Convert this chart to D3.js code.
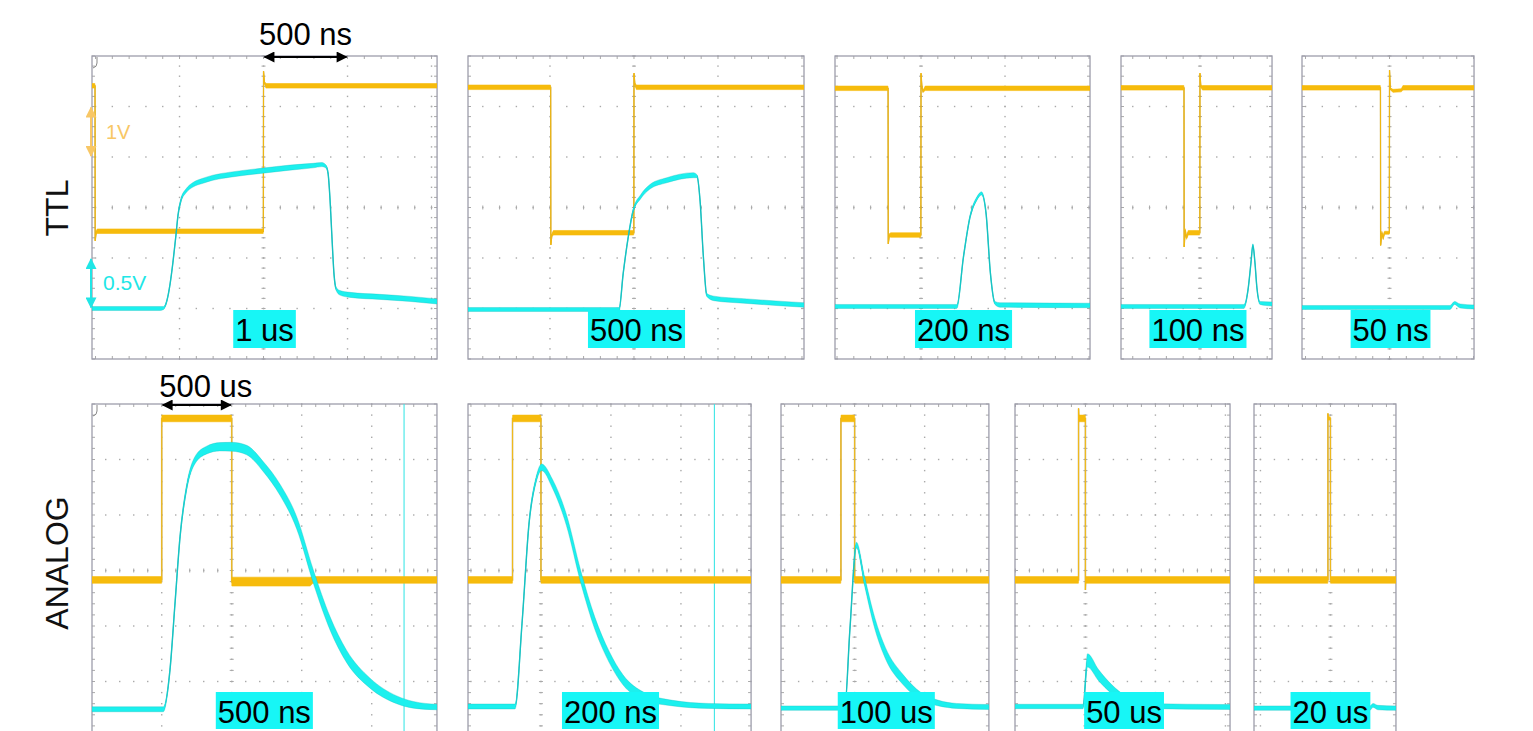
<!DOCTYPE html>
<html><head><meta charset="utf-8">
<script src="https://cdn.jsdelivr.net/npm/d3@7"></script>
<style>
body{margin:0;background:#fff;overflow:hidden}
svg{display:block}
text{font-family:"Liberation Sans",Arial,Helvetica,sans-serif}
</style>
</head><body>
<svg id="chart" width="1533" height="731"></svg>
<script>
// ---------------- DATA ----------------
// Row titles
const rowTitles = ["TTL", "ANALOG"];
// Pulse-width labels per panel
const ttlLabels = ["1 us", "500 ns", "200 ns", "100 ns", "50 ns"];
const analogLabels = ["500 ns", "200 ns", "100 us", "50 us", "20 us"];
// Time window shown in each panel (t = 0 at end of pulse); TTL in ns, ANALOG in us
const ttlWindows = [[-1021, 1033], [-988, 1012], [-512, 1006], [-470, 429], [-521, 503]];
const analogWindows = [[-998, 1466], [-521, 1501], [-526, 959], [-503, 1033], [-546, 468]];
// Label box centre (time units)
const ttlLabelAt = [6, 15, 253, -12, 6];
const analogLabelAt = [233, 497, 226, 276, 0];

// Traces: [time, value in divisions (0 = screen centre), noise half-width in divisions]
const ttlYellow = [
  [[-1021,2.41,.045],[-1004,2.41,.045],[-1003,2.41,0],[-1002,-0.66,0],[-997,-0.5,.03],[-990,-0.47,.045],[-2,-0.47,.045],[-1,-0.47,0],[0,2.70,0],[5,2.48,.02],[14,2.41,.045],[1033,2.41,.045]],
  [[-988,2.38,.045],[-497,2.38,.045],[-496,2.38,0],[-495,-0.74,0],[-489,-0.55,.03],[-480,-0.5,.045],[-2,-0.5,.045],[-1,-0.5,0],[0,2.66,0],[5,2.45,.02],[14,2.38,.045],[1012,2.38,.045]],
  [[-512,2.36,.045],[-197,2.36,.045],[-196,2.36,0],[-195,-0.72,0],[-189,-0.55,.03],[-180,-0.545,.045],[-2,-0.545,.045],[-1,-0.545,0],[0,2.66,0],[5,2.40,.02],[12,2.30,.02],[25,2.36,.045],[1006,2.36,.045]],
  [[-470,2.37,.045],[-96,2.37,.045],[-95,2.37,0],[-94,-0.78,0],[-88,-0.45,.03],[-80,-0.6,.03],[-70,-0.5,.045],[-2,-0.5,.045],[-1,-0.5,0],[0,2.66,0],[5,2.40,.02],[15,2.37,.045],[429,2.37,.045]],
  [[-521,2.37,.045],[-55,2.37,.045],[-54,2.37,0],[-53,-0.75,0],[-46,-0.5,.03],[-38,-0.6,.03],[-30,-0.5,.03],[-2,-0.5,.03],[-1,-0.5,0],[0,2.72,0],[5,2.35,.02],[20,2.31,.03],[70,2.32,.03],[80,2.37,.045],[503,2.37,.045]]
];
const ttlCyan = [
  [[-1021,-2.0,.04],[-616,-2.0,.04],[-595,-1.99,.03],[-574,-1.83,.02],[-557,-1.53,.02],[-539,-1.08,.02],[-521,-0.54,.02],[-509,-0.15,.025],[-491,0.15,.035],[-461,0.33,.04],[-420,0.45,.045],[-360,0.53,.05],[-301,0.59,.05],[-199,0.65,.05],[-3,0.73,.05],[158,0.79,.05],[295,0.83,.045],[348,0.85,.04],[372,0.81,.03],[384,0.68,.02],[396,0.15,.02],[408,-0.64,.02],[420,-1.34,.02],[432,-1.61,.03],[455,-1.69,.045],[515,-1.73,.05],[693,-1.77,.05],[872,-1.81,.05],[1033,-1.86,.05]],
  [[-988,-2.02,.04],[-89,-2.02,.04],[-64,-1.30,.02],[-34,-0.58,.02],[-4,-0.05,.03],[39,0.21,.04],[95,0.41,.045],[195,0.54,.05],[353,0.64,.05],[375,0.62,.03],[393,0.15,.02],[413,-0.97,.02],[433,-1.73,.03],[475,-1.80,.045],[652,-1.85,.045],[1012,-1.93,.045]],
  [[-512,-1.96,.04],[213,-1.96,.04],[253,-0.97,.025],[292,-0.18,.03],[333,0.18,.035],[360,0.28,.03],[387,-0.11,.025],[413,-1.30,.025],[440,-1.89,.03],[470,-1.93,.045],[1006,-1.94,.045]],
  [[-470,-1.96,.04],[262,-1.96,.04],[286,-1.63,.02],[304,-1.08,.02],[315,-0.74,.02],[327,-1.08,.02],[339,-1.59,.02],[357,-1.89,.03],[429,-1.91,.04]],
  [[-521,-1.98,.04],[360,-1.98,.04],[387,-1.89,.03],[420,-1.95,.04],[503,-1.97,.04]]
];
const analogYellow = [
  [[-998,-0.17,.06],[-501,-0.17,.06],[-500,-0.17,0],[-500,2.74,0],[-499,2.74,.06],[-1,2.74,.06],[0,2.74,0],[0,-0.2,0],[1,-0.2,.08],[560,-0.2,.08],[580,-0.17,.06],[1466,-0.17,.06]],
  [[-521,-0.17,.06],[-204,-0.17,.06],[-203,-0.17,0],[-203,2.74,0],[-202,2.74,.06],[-1,2.74,.06],[0,2.74,0],[0,-0.17,0],[1,-0.17,.06],[1501,-0.17,.06]],
  [[-526,-0.17,.06],[-99,-0.17,.06],[-98,-0.17,0],[-98,2.74,0],[-97,2.74,.06],[-1,2.74,.06],[0,2.74,0],[0,-0.17,0],[1,-0.17,.06],[959,-0.17,.06]],
  [[-503,-0.17,.06],[-50,-0.17,.06],[-49,-0.17,0],[-49,2.92,0],[-47,2.74,.06],[-1,2.74,.06],[0,2.74,0],[0,-0.35,0],[2,-0.17,.06],[1033,-0.17,.06]],
  [[-546,-0.17,.06],[-19,-0.17,.06],[-18,-0.17,0],[-18,2.83,0],[-16,2.74,.03],[-1,2.74,.03],[0,2.74,0],[0,-0.17,0],[1,-0.17,.06],[468,-0.17,.06]]
];
const analogCyan = [
  [[-998,-2.50,.045],[-489,-2.50,.045],[-441,-1.79,.03],[-405,-0.59,.03],[-369,0.61,.035],[-321,1.51,.05],[-262,1.99,.065],[-179,2.17,.07],[-84,2.23,.075],[0,2.23,.08],[107,2.17,.085],[226,1.87,.09],[346,1.45,.1],[464,0.86,.11],[583,-0.11,.12],[702,-0.95,.12],[821,-1.55,.11],[988,-2.03,.09],[1179,-2.33,.07],[1297,-2.42,.06],[1466,-2.46,.05]],
  [[-521,-2.45,.045],[-185,-2.45,.045],[-135,-0.95,.03],[-85,0.85,.035],[-35,1.63,.05],[5,1.86,.06],[81,1.57,.08],[182,0.91,.1],[284,-0.11,.11],[385,-0.95,.11],[486,-1.55,.1],[586,-1.97,.09],[739,-2.27,.07],[942,-2.39,.05],[1194,-2.44,.045],[1501,-2.45,.045]],
  [[-526,-2.48,.04],[-71,-2.48,.04],[-34,-1.07,.025],[13,0.46,.05],[69,-0.17,.08],[144,-0.95,.1],[220,-1.49,.1],[347,-1.97,.09],[474,-2.27,.07],[600,-2.39,.05],[727,-2.44,.045],[959,-2.46,.045]],
  [[-503,-2.45,.04],[-17,-2.45,.04],[15,-1.62,.12],[92,-1.88,.1],[189,-2.14,.08],[286,-2.32,.06],[407,-2.44,.045],[1033,-2.46,.045]],
  [[-546,-2.48,.04],[282,-2.48,.04],[304,-2.43,.035],[339,-2.47,.04],[468,-2.48,.04]]
];
// Cursor lines (time) in ANALOG panels
const analogCursors = [1231, 1239, null, null, null];
// Scale bars: [row, panel, t start, t end, label]
const scaleBars = [[0, 0, 0, 500, "500 ns"], [1, 0, -500, 0, "500 us"]];
// Channel scale markers in first TTL panel: [v from, v to, label]
const yellowScale = [1, 2, "1V"];
const cyanScale = [-2, -1, "0.5V"];

// ---------------- LAYOUT ----------------
const rows = [
  {top: 56, divPx: 50.5, divTimePx: 84, timePerDiv: 500, lefts: [92, 468, 835, 1121, 1302],
   windows: ttlWindows, yellow: ttlYellow, cyan: ttlCyan, labels: ttlLabels, labelAt: ttlLabelAt,
   boxTop: 310, boxH: 38, titleY: 208},
  {top: 404, divPx: 55.5, divTimePx: 70, timePerDiv: 500, lefts: [92, 468, 781, 1015, 1254],
   windows: analogWindows, yellow: analogYellow, cyan: analogCyan, labels: analogLabels, labelAt: analogLabelAt,
   boxTop: 692, boxH: 37, titleY: 563, cursors: analogCursors}
];
const C = {
  border: "#9d9dab", grid: "#a9a9a9", yellow: "#f6bb0c", yellowEdge: "#bf9f3c",
  yellowEdge2: "#c9b374", cyan: "#1cf0ee", cyanEdge: "#17bdbd", box: "#17f6f6",
  scaleY: "#f8c766", scaleC: "#20e6e6"
};

const svg = d3.select("#chart");
const defs = svg.append("defs");
const panelsG = [[], []];

rows.forEach((row, ri) => {
  // Row title
  svg.append("text").attr("transform", `translate(68,${row.titleY}) rotate(-90)`)
    .attr("text-anchor", "middle").attr("font-size", 32).attr("fill", "#111").text(rowTitles[ri]);

  row.windows.forEach((win, pi) => {
    const left = row.lefts[pi];
    const width = (win[1] - win[0]) / row.timePerDiv * row.divTimePx;
    const x = d3.scaleLinear().domain(win).range([left, left + width]);
    const y = d3.scaleLinear().domain([-3, 3]).range([row.top + 6 * row.divPx, row.top]);
    const g = svg.append("g");
    panelsG[ri][pi] = {g, x, y};
    const minorT = row.timePerDiv / 5;

    const clipId = `clip${ri}${pi}`;
    defs.append("clipPath").attr("id", clipId).append("rect")
      .attr("x", left).attr("y", y(3)).attr("width", width).attr("height", y(-3) - y(3));

    const grid = g.append("g").attr("fill", C.grid);
    const tMajor = d3.range(Math.ceil(win[0] / row.timePerDiv), Math.floor(win[1] / row.timePerDiv) + 1)
      .map(k => k * row.timePerDiv).filter(t => x(t) - left > 4 && left + width - x(t) > 4);
    const vMinor = d3.range(-15, 16).map(j => j * 0.2);
    tMajor.forEach(t => vMinor.forEach(v => {
      grid.append("rect").attr("x", x(t) - 0.7).attr("y", y(v) - 0.7).attr("width", 1.4).attr("height", 1.4);
    }));
    const tMinor = d3.range(Math.ceil(win[0] / minorT), Math.floor(win[1] / minorT) + 1).map(k => k * minorT);
    [-2, -1, 0, 1, 2].forEach(v => tMinor.forEach(t => {
      grid.append("rect").attr("x", x(t) - 0.7).attr("y", y(v) - 0.7).attr("width", 1.4).attr("height", 1.4);
    }));
    const tick = g.append("g").attr("stroke", C.grid).attr("stroke-width", 1);
    if (x(0) > left + 4 && x(0) < left + width - 4) {
      vMinor.forEach(v => tick.append("line").attr("x1", x(0) - 2).attr("x2", x(0) + 2).attr("y1", y(v)).attr("y2", y(v)));
    }
    tMinor.forEach(t => tick.append("line").attr("x1", x(t)).attr("x2", x(t)).attr("y1", y(0) - 2).attr("y2", y(0) + 2));
    tMinor.forEach(t => {
      tick.append("line").attr("x1", x(t)).attr("x2", x(t)).attr("y1", y(3)).attr("y2", y(3) + 3);
      tick.append("line").attr("x1", x(t)).attr("x2", x(t)).attr("y1", y(-3)).attr("y2", y(-3) - 3);
    });
    vMinor.forEach(v => {
      tick.append("line").attr("x1", left).attr("x2", left + 3).attr("y1", y(v)).attr("y2", y(v));
      tick.append("line").attr("x1", left + width).attr("x2", left + width - 3).attr("y1", y(v)).attr("y2", y(v));
    });

    g.append("rect").attr("x", left).attr("y", y(3)).attr("width", width).attr("height", y(-3) - y(3))
      .attr("fill", "none").attr("stroke", C.border).attr("stroke-width", 1.3);

    if (row.cursors && row.cursors[pi] != null) {
      g.append("line").attr("x1", x(row.cursors[pi])).attr("x2", x(row.cursors[pi]))
        .attr("y1", y(3)).attr("y2", y(-3)).attr("stroke", "#3fe6e6").attr("stroke-width", 1.1);
    }

    const tg = g.append("g").attr("clip-path", `url(#${clipId})`);
    const yLine = d3.line().x(d => x(d[0])).y(d => y(d[1]));
    const yBand = d3.area().x(d => x(d[0])).y0(d => y(d[1] - d[2])).y1(d => y(d[1] + d[2]));
    const cLine = d3.line().x(d => x(d[0])).y(d => y(d[1])).curve(d3.curveMonotoneX);
    const cBand = d3.area().x(d => x(d[0])).y0(d => y(d[1] - d[2])).y1(d => y(d[1] + d[2])).curve(d3.curveMonotoneX);

    const ye = row.yellow[pi];
    const cy = row.cyan[pi];
    tg.append("path").datum(ye).attr("d", yLine).attr("fill", "none")
      .attr("stroke", ri === 0 ? C.yellowEdge : C.yellowEdge2).attr("stroke-width", ri === 0 ? 1.3 : 1.6);
    tg.append("path").datum(ye).attr("d", yBand).attr("fill", C.yellow).attr("stroke", C.yellow).attr("stroke-width", 0.6);
    tg.append("path").datum(cy).attr("d", cLine).attr("fill", "none")
      .attr("stroke", C.cyanEdge).attr("stroke-width", 1.4);
    tg.append("path").datum(cy).attr("d", cBand).attr("fill", C.cyan)
      .attr("stroke", C.cyanEdge).attr("stroke-width", 0.5).attr("stroke-opacity", 0.7);

    if (pi === 0) {
      g.append("path").attr("d", `M${left + 5},${y(3) + 1} L${left + 5},${y(3) + 7} Q${left + 5},${y(3) + 11} ${left + 1},${y(3) + 12}`)
        .attr("fill", "none").attr("stroke", "#888").attr("stroke-width", 1);
    }

    const lt = svg.append("text").attr("x", x(row.labelAt[pi])).attr("y", row.boxTop + 31)
      .attr("text-anchor", "middle").attr("font-size", 31).attr("fill", "#000").text(row.labels[pi]);
    const bb = lt.node().getBBox();
    svg.insert("rect", () => lt.node()).attr("x", bb.x - 2).attr("y", row.boxTop)
      .attr("width", bb.width + 4).attr("height", row.boxH).attr("fill", C.box);
  });
});

function arrowMarker(id, color, w, h) {
  const m = defs.append("marker").attr("id", id).attr("viewBox", "0 0 10 10").attr("refX", 9).attr("refY", 5)
    .attr("markerWidth", w).attr("markerHeight", h).attr("markerUnits", "userSpaceOnUse").attr("orient", "auto-start-reverse");
  m.append("path").attr("d", "M0,0 L10,5 L0,10 Z").attr("fill", color);
}
arrowMarker("arrBlack", "#000", 13, 11);
arrowMarker("arrY", C.scaleY, 13, 11);
arrowMarker("arrC", C.scaleC, 13, 11);

scaleBars.forEach(([ri, pi, t0, t1, label]) => {
  const {x, y} = panelsG[ri][pi];
  const yy = y(3) + 1;
  svg.append("line").attr("x1", x(t0) + 1).attr("x2", x(t1) - 1).attr("y1", yy).attr("y2", yy)
    .attr("stroke", "#000").attr("stroke-width", 2)
    .attr("marker-start", "url(#arrBlack)").attr("marker-end", "url(#arrBlack)");
  svg.append("text").attr("x", (x(t0) + x(t1)) / 2 + (ri === 1 ? 9 : 0)).attr("y", ri === 0 ? yy - 12 : yy - 8)
    .attr("text-anchor", "middle").attr("font-size", 31).attr("fill", "#000").text(label);
});

{
  const {x, y} = panelsG[0][0];
  const ax = x.range()[0] - 1;
  [[yellowScale, "arrY", C.scaleY, 15, 20], [cyanScale, "arrC", C.scaleC, 12, 21]].forEach(([s, mk, col, dx, fs]) => {
    svg.append("line").attr("x1", ax).attr("x2", ax).attr("y1", y(s[0]) - 1).attr("y2", y(s[1]) + 1)
      .attr("stroke", col).attr("stroke-width", 2)
      .attr("marker-start", `url(#${mk})`).attr("marker-end", `url(#${mk})`);
    svg.append("text").attr("x", ax + dx).attr("y", (y(s[0]) + y(s[1])) / 2 + 7)
      .attr("font-size", fs).attr("fill", col).text(s[2]);
  });
}
</script>
</body></html>
